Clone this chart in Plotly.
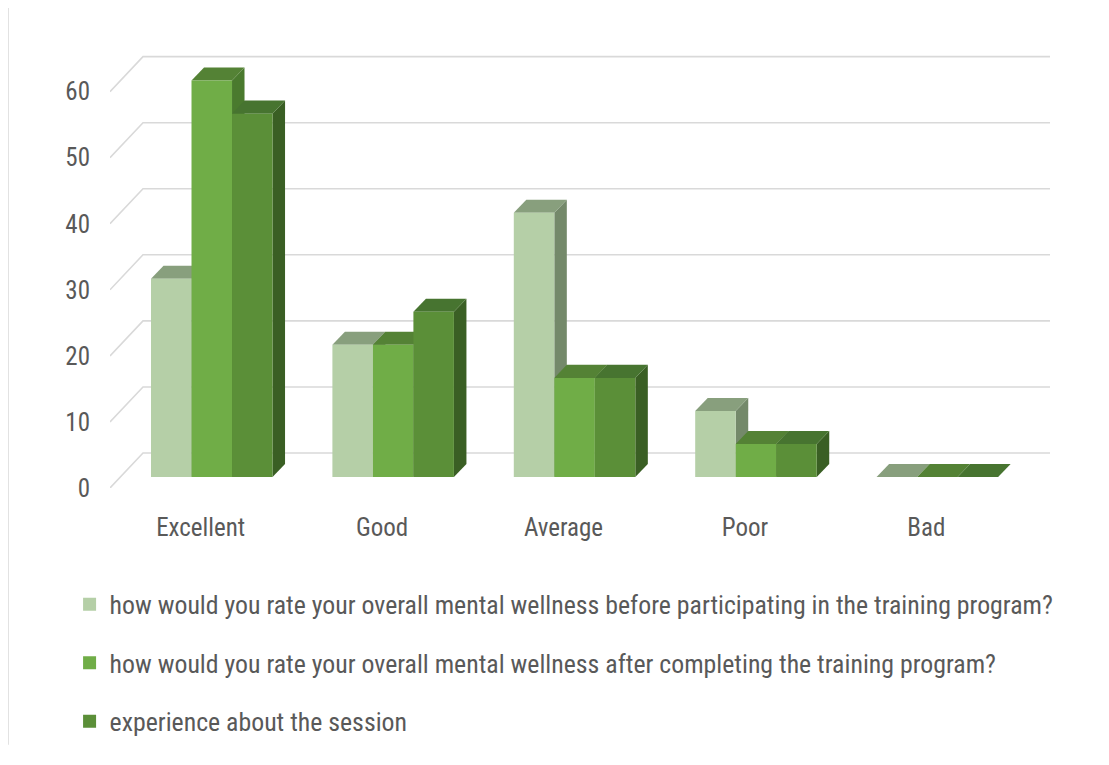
import plotly.graph_objects as go

# ---------------- data ----------------
categories = ["Excellent", "Good", "Average", "Poor", "Bad"]
series_names = [
    "how would you rate your overall mental wellness before participating in the training program?",
    "how would you rate your overall mental wellness after completing the training program?",
    "experience about the session",
]
before_values = [30, 20, 40, 10, 0]
after_values = [60, 20, 15, 5, 0]
session_values = [55, 25, 15, 5, 0]
y_ticks = [0, 10, 20, 30, 40, 50, 60]

# ---------------- styles ----------------
front_colors = ["#b5cfa7", "#70ad47", "#5b8f38"]
top_colors = ["#889f7d", "#548235", "#477430"]
side_colors = ["#74896a", "#4a7a2e", "#3a5f24"]
grid_color = "#d9d9d9"
text_color = "#595959"
font_family = "Liberation Sans Narrow, Arial Narrow, Roboto Condensed, sans-serif"

# oblique 3D geometry (category units on x, value units on y)
WALL_DX, WALL_DY = 0.182, 5.3      # back wall depth offset
FRONT_DX, FRONT_DY = 0.061, 1.67   # bar front plane offset
BAR_DX, BAR_DY = 0.069, 1.97       # bar depth
BAR_W = 0.2233
X_MIN, X_MAX = -0.5, 4.682
Y_MAX = 66

all_series = [before_values, after_values, session_values]

fig = go.Figure()

# gridlines: side wall diagonal + back wall horizontal
gx, gy = [], []
for t in y_ticks:
    gx += [X_MIN, X_MIN + WALL_DX, X_MAX, None]
    gy += [t, t + WALL_DY, t + WALL_DY, None]
fig.add_trace(go.Scatter(x=gx, y=gy, mode="lines",
                         line=dict(color=grid_color, width=1.6),
                         hoverinfo="skip", showlegend=False))


def poly(pts, color):
    xs = [p[0] for p in pts] + [pts[0][0]]
    ys = [p[1] for p in pts] + [pts[0][1]]
    fig.add_trace(go.Scatter(x=xs, y=ys, mode="lines", fill="toself",
                             fillcolor=color, line=dict(width=0, color=color),
                             hoverinfo="skip", showlegend=False))


n_ser = len(all_series)
for i, cat in enumerate(categories):
    for k, vals in enumerate(all_series):
        v = vals[i]
        xl = i - n_ser * BAR_W / 2 + k * BAR_W + FRONT_DX
        xr = xl + BAR_W
        y0 = FRONT_DY
        y1 = FRONT_DY + v
        if v > 0:
            poly([(xr, y0), (xr + BAR_DX, y0 + BAR_DY), (xr + BAR_DX, y1 + BAR_DY), (xr, y1)],
                 side_colors[k])
        poly([(xl, y1), (xr, y1), (xr + BAR_DX, y1 + BAR_DY), (xl + BAR_DX, y1 + BAR_DY)],
             top_colors[k])
        if v > 0:
            poly([(xl, y0), (xr, y0), (xr, y1), (xl, y1)], front_colors[k])

# legend entries
for k, name in enumerate(series_names):
    fig.add_trace(go.Scatter(x=[None], y=[None], mode="markers", name=name,
                             legendgroup=str(k),
                             marker=dict(symbol="square", size=13, color=front_colors[k])))

fig.update_layout(
    width=1101, height=757,
    margin=dict(l=102, r=59, t=44, b=277),
    paper_bgcolor="white", plot_bgcolor="white",
    font=dict(family=font_family, size=25, color=text_color),
    xaxis=dict(type="linear", range=[X_MIN, X_MAX], showgrid=False, zeroline=False,
               showline=False, tickmode="array", tickvals=list(range(len(categories))),
               ticktext=categories, ticks="", ticklabelstandoff=22, fixedrange=True),
    yaxis=dict(range=[0, Y_MAX], showgrid=False, zeroline=False, showline=False,
               tickmode="array", tickvals=y_ticks, ticktext=[str(t) for t in y_ticks],
               ticks="", ticklabelstandoff=19, fixedrange=True),
    legend=dict(x=-0.043, xanchor="left", y=-0.213, yanchor="top",
                orientation="v", tracegroupgap=22, itemwidth=30,
                font=dict(family=font_family, size=25.8, color=text_color),
                bgcolor="rgba(0,0,0,0)"),
    shapes=[dict(type="line", xref="paper", yref="paper",
                 x0=-0.1085, x1=-0.1085, y0=1.101, y1=-0.589,
                 line=dict(color=grid_color, width=1.5))],
)

fig.write_html("out.html")
